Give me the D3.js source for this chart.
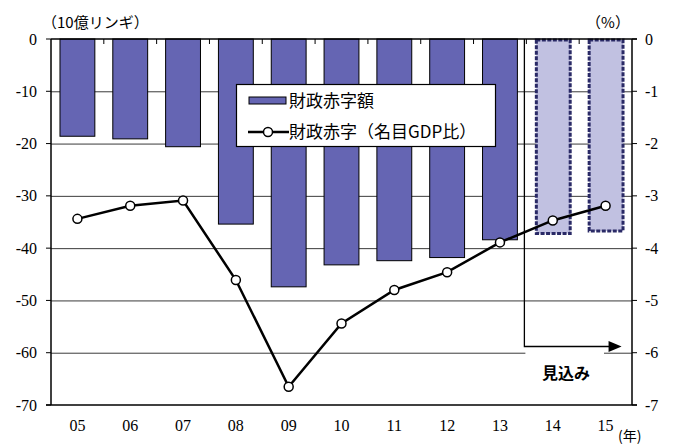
<!DOCTYPE html>
<html>
<head>
<meta charset="utf-8">
<script src="https://cdn.jsdelivr.net/npm/d3@7"></script>
<style>
  html, body { margin: 0; padding: 0; background: #fff; }
  svg { display: block; }
</style>
</head>
<body>
<svg id="chart" width="673" height="446"></svg>
<script>
// ---- data ----
const categories = ["05", "06", "07", "08", "09", "10", "11", "12", "13", "14", "15"];
const deficitAmount = [-18.6, -19.1, -20.6, -35.4, -47.4, -43.2, -42.4, -41.8, -38.4, -37.2, -36.7]; // 10億リンギ
const deficitRatio = [-3.44, -3.19, -3.09, -4.61, -6.65, -5.44, -4.80, -4.46, -3.89, -3.47, -3.19]; // % of nominal GDP
const forecastCategories = ["14", "15"];
const leftTicks = [0, -10, -20, -30, -40, -50, -60, -70];
const rightTicks = [0, -1, -2, -3, -4, -5, -6, -7];
const seriesNames = ["財政赤字額", "財政赤字（名目GDP比）"];

(function () {
const SERIF = "'Liberation Serif', 'Times New Roman', serif";
const JP = "'Noto Sans CJK JP', 'Noto Sans CJK SC', sans-serif";
// ---- layout ----
const svg = d3.select("#chart");
const pL = 51, pR = 632, pT = 39, pB = 405;

const x = d3.scaleBand().domain(categories).range([pL, pR]).paddingInner(0.34).paddingOuter(0.17);
const yL = d3.scaleLinear().domain([-70, 0]).range([pB, pT]);
const yR = d3.scaleLinear().domain([-7, 0]).range([pB, pT]);

// gridlines
svg.append("g").selectAll("line").data(leftTicks.filter(t => t !== 0 && t !== -70)).join("line")
  .attr("x1", pL).attr("x2", pR)
  .attr("y1", d => yL(d) + 0.5).attr("y2", d => yL(d) + 0.5)
  .attr("stroke", "#3a3a3a").attr("stroke-width", 1);

// bars
const barData = categories.map((c, i) => ({ c, v: deficitAmount[i], f: forecastCategories.includes(c) }));
svg.append("g").selectAll("rect").data(barData.filter(d => !d.f)).join("rect")
  .attr("x", d => x(d.c)).attr("width", x.bandwidth())
  .attr("y", d => yL(0)).attr("height", d => yL(d.v) - yL(0))
  .attr("fill", "#6565b3").attr("stroke", "#000").attr("stroke-width", 1);

svg.append("g").selectAll("rect").data(barData.filter(d => d.f)).join("rect")
  .attr("x", d => x(d.c) + 1).attr("width", x.bandwidth() - 1)
  .attr("y", d => yL(0) + 1).attr("height", d => yL(d.v) - yL(0) - 1)
  .attr("fill", "#c1c1e1").attr("stroke", "#2a2a66").attr("stroke-width", 3)
  .attr("stroke-dasharray", "4,1.5");

// forecast bracket / arrow
const bx = x("13") + x.bandwidth() + 7;
const arrowY = 346.5;
const arrowTip = x("15") + x.bandwidth() / 2 + 16;
svg.append("rect").attr("x", bx + 1).attr("y", 348).attr("width", 603 - bx).attr("height", 40).attr("fill", "#fff");
svg.append("path")
  .attr("d", `M${bx},${pT} L${bx},${arrowY} L${arrowTip - 12},${arrowY}`)
  .attr("fill", "none").attr("stroke", "#000").attr("stroke-width", 1.3);
svg.append("path")
  .attr("d", `M${arrowTip},${arrowY} L${arrowTip - 13},${arrowY - 5.5} L${arrowTip - 13},${arrowY + 5.5} Z`)
  .attr("fill", "#000");
svg.append("text").attr("font-family", JP).attr("x", 566).attr("y", 379)
  .attr("text-anchor", "middle").attr("font-size", 16).attr("font-weight", "bold").text("見込み");

// axes frame
svg.append("line").attr("x1", pL).attr("x2", pR + 5).attr("y1", pT).attr("y2", pT).attr("stroke", "#000").attr("stroke-width", 1.5);
svg.append("line").attr("x1", pL - 5).attr("x2", pR + 5).attr("y1", pB).attr("y2", pB).attr("stroke", "#000").attr("stroke-width", 1.5);
svg.append("line").attr("x1", pL).attr("x2", pL).attr("y1", pT).attr("y2", pB).attr("stroke", "#000").attr("stroke-width", 1.5);
svg.append("line").attr("x1", pR).attr("x2", pR).attr("y1", pT).attr("y2", pB).attr("stroke", "#000").attr("stroke-width", 1.5);

// top category boundary ticks
const step = x.step();
const bounds = d3.range(1, categories.length).map(i => pL + i * step);
svg.append("g").selectAll("line").data(bounds).join("line")
  .attr("x1", d => d).attr("x2", d => d).attr("y1", pT).attr("y2", pT + 5)
  .attr("stroke", "#000").attr("stroke-width", 1);

// left axis
svg.append("g").selectAll("line").data(leftTicks).join("line")
  .attr("x1", pL - 5).attr("x2", pL).attr("y1", d => yL(d)).attr("y2", d => yL(d))
  .attr("stroke", "#000").attr("stroke-width", 1);
svg.append("g").selectAll("text").data(leftTicks).join("text")
  .attr("font-family", SERIF).attr("font-size", 16).attr("x", 37).attr("y", d => yL(d) + 5.5)
  .attr("text-anchor", "end").text(d => String(d));

// right axis
svg.append("g").selectAll("line").data(rightTicks).join("line")
  .attr("x1", pR).attr("x2", pR + 5).attr("y1", d => yR(d)).attr("y2", d => yR(d))
  .attr("stroke", "#000").attr("stroke-width", 1);
svg.append("g").selectAll("text").data(rightTicks).join("text")
  .attr("font-family", SERIF).attr("font-size", 16).attr("x", 645).attr("y", d => yR(d) + 5.5)
  .attr("text-anchor", "start").text(d => String(d));

// category labels
svg.append("g").selectAll("text").data(categories).join("text")
  .attr("font-family", SERIF).attr("font-size", 16)
  .attr("x", d => x(d) + x.bandwidth() / 2).attr("y", 431)
  .attr("text-anchor", "middle").text(d => d);

// unit labels
svg.append("text").attr("font-family", JP).attr("x", 42).attr("y", 28).attr("font-size", 15).text("（10億リンギ）");
svg.append("text").attr("font-family", JP).attr("x", 608).attr("y", 28).attr("font-size", 15).attr("text-anchor", "middle").text("（%）");
svg.append("text").attr("font-family", JP).attr("x", 618).attr("y", 441).attr("font-size", 14).attr("text-anchor", "start").text("(年)");

// line series
const lineData = categories.map((c, i) => ({ c, v: deficitRatio[i] }));
const line = d3.line().x(d => x(d.c) + x.bandwidth() / 2).y(d => yR(d.v));
svg.append("path").datum(lineData).attr("d", line)
  .attr("fill", "none").attr("stroke", "#000").attr("stroke-width", 2.5);
svg.append("g").selectAll("circle").data(lineData).join("circle")
  .attr("cx", d => x(d.c) + x.bandwidth() / 2).attr("cy", d => yR(d.v)).attr("r", 4.5)
  .attr("fill", "#fff").attr("stroke", "#000").attr("stroke-width", 1.5);

// legend
const lg = svg.append("g");
lg.append("rect").attr("x", 236.5).attr("y", 84.5).attr("width", 259).attr("height", 62)
  .attr("fill", "#fff").attr("stroke", "#000").attr("stroke-width", 1.2);
lg.append("rect").attr("x", 249).attr("y", 97).attr("width", 37).attr("height", 7)
  .attr("fill", "#6565b3").attr("stroke", "#000").attr("stroke-width", 1);
lg.append("text").attr("font-family", JP).attr("x", 289).attr("y", 107).attr("font-size", 17).text(seriesNames[0]);
lg.append("line").attr("x1", 248).attr("x2", 289).attr("y1", 132).attr("y2", 132)
  .attr("stroke", "#000").attr("stroke-width", 2.5);
lg.append("circle").attr("cx", 268).attr("cy", 132).attr("r", 4.5)
  .attr("fill", "#fff").attr("stroke", "#000").attr("stroke-width", 1.5);
lg.append("text").attr("font-family", JP).attr("x", 289).attr("y", 138).attr("font-size", 17).text(seriesNames[1]);
})();
</script>
</body>
</html>
